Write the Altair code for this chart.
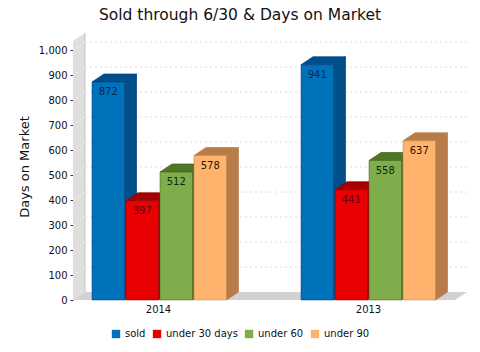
import altair as alt
import pandas as pd

FONT = "DejaVu Sans"
TITLE = "Sold through 6/30 & Days on Market"
Y_TITLE = "Days on Market"
YEARS = ["2014", "2013"]
SERIES = ["sold", "under 30 days", "under 60", "under 90"]
SOLD = [872, 941]
UNDER_30 = [397, 441]
UNDER_60 = [512, 558]
UNDER_90 = [578, 637]
VALUES = [SOLD, UNDER_30, UNDER_60, UNDER_90]
TICKS = list(range(0, 1001, 100))

FRONT = ["#0072b9", "#e80003", "#7fad4b", "#ffb36c"]
SIDE = ["#00508a", "#a50000", "#4f7526", "#b87c49"]
TOP = ["#004f8c", "#a80000", "#4f7526", "#b87c49"]
EDGE = ["#003a80", "#8a0000", "#3f6018", "#b87c49"]
TEXT = ["#0a2a55", "#66000a", "#10260a", "#2a1800"]

# scale geometry (x domain is the floor length, y domain the axis range)
X_MAX, Y_MAX = 394, 1068
DX, DY = 12, 32
WALL_TOP = 1036
GROUP_START = [19, 228]
BAR_W, BAR_STEP = 32.5, 34

x_enc = alt.X("x:Q", scale=alt.Scale(domain=[0, X_MAX], nice=False, zero=False),
              axis=alt.Axis(values=[85, 295], labelExpr=f"datum.value < 200 ? '{YEARS[0]}' : '{YEARS[1]}'",
                            title=None, grid=False, domain=False, ticks=False, labelFont=FONT,
                            labelFontSize=10, labelColor="#111", labelPadding=4))
y_axis = alt.Axis(values=TICKS, format=",.0f", title=Y_TITLE, grid=False, domain=False, tickSize=3,
                  tickColor="#333", labelFont=FONT, labelFontSize=10, labelColor="#111", labelPadding=3,
                  titleFont=FONT, titleFontSize=13, titleFontWeight="normal", titleColor="#111", titlePadding=7)
y_scale = alt.Scale(domain=[0, Y_MAX], nice=False, zero=False)
Y = alt.Y("y:Q", scale=y_scale, axis=y_axis, stack=None)
Y2 = alt.Y2("y2:Q")


def area(rows, color, stroke=None):
    kw = {"stroke": stroke, "strokeWidth": 0.7} if stroke else {}
    return alt.Chart(pd.DataFrame(rows)).mark_area(color=color, opacity=1, **kw).encode(
        x=x_enc, y=Y, y2=Y2, detail="g:N")


layers = []
# wall
layers.append(area([
    {"x": 0, "y": WALL_TOP, "y2": 0, "g": "w"},
    {"x": DX, "y": WALL_TOP + DY, "y2": DY, "g": "w"},
], "#dedede"))
# floor
layers.append(area([
    {"x": 0, "y": 0, "y2": 0, "g": "f"},
    {"x": DX, "y": DY, "y2": 0, "g": "f"},
    {"x": X_MAX - DX, "y": DY, "y2": 0, "g": "f"},
    {"x": X_MAX, "y": DY, "y2": DY, "g": "f"},
], "#d2d2d2"))
# wall back edge
layers.append(alt.Chart(pd.DataFrame([{"x": DX, "y": WALL_TOP + DY, "y2": DY}])).mark_rule(
    color="#c4c4c4", strokeWidth=1).encode(x=x_enc, y=Y, y2=Y2))
# grid on the back wall and the slanted lines on the side wall
grid = pd.DataFrame([{"x": DX, "x2": X_MAX, "y": t + DY} for t in TICKS[1:]])
layers.append(alt.Chart(grid).mark_rule(color="#dcdcdc", strokeDash=[2, 3], strokeWidth=1).encode(
    x=x_enc, x2="x2:Q", y=Y))
slant = pd.DataFrame([r for t in TICKS[1:] for r in
                      ({"x": 0, "y": t, "g": t}, {"x": DX, "y": t + DY, "g": t})])
layers.append(alt.Chart(slant).mark_line(color="#f2f2f2", strokeDash=[2, 2], strokeWidth=1).encode(
    x=x_enc, y=Y, detail="g:N"))

color = alt.Color("series:N", scale=alt.Scale(domain=SERIES, range=FRONT),
                  legend=alt.Legend(title=None, orient="none", legendX=38, legendY=296, direction="horizontal",
                                    columns=4, columnPadding=6, symbolType="square", symbolSize=70,
                                    symbolStrokeWidth=0, labelFont=FONT, labelFontSize=10, labelColor="#111",
                                    labelOffset=4))

text_layers = []
for si, name in enumerate(SERIES):
    side, top, front, labels = [], [], [], []
    for gi, year in enumerate(YEARS):
        v = VALUES[si][gi]
        xl = GROUP_START[gi] + si * BAR_STEP
        xr = xl + BAR_W
        side += [{"x": xr, "y": v, "y2": 0, "g": year}, {"x": xr + DX, "y": v + DY, "y2": DY, "g": year}]
        top += [{"x": xl, "y": v, "y2": v, "g": year}, {"x": xl + DX, "y": v + DY, "y2": v, "g": year},
                {"x": xr, "y": v + DY, "y2": v, "g": year}, {"x": xr + DX, "y": v + DY, "y2": v + DY, "g": year}]
        front.append({"x": xl, "x2": xr, "y": v, "y2": 0, "series": name})
        labels.append({"x": (xl + xr) / 2, "y": v, "t": str(v)})
    layers.append(area(side, SIDE[si], EDGE[si]))
    layers.append(area(top, TOP[si], EDGE[si]))
    layers.append(alt.Chart(pd.DataFrame(front)).mark_rect(stroke=EDGE[si], strokeWidth=0.5).encode(
        x=x_enc, x2="x2:Q", y=Y, y2=Y2, color=color))
    text_layers.append(alt.Chart(pd.DataFrame(labels)).mark_text(
        baseline="top", dy=5, font=FONT, fontSize=10, color=TEXT[si]).encode(x=x_enc, y=Y, text="t:N"))

chart = alt.layer(*layers, *text_layers).properties(
    width=X_MAX, height=267,
    title=alt.TitleParams(TITLE, font=FONT, fontSize=15.5, fontWeight="normal", color="#111", anchor="middle", dx=-30, offset=9),
    padding={"left": 65, "top": 25, "right": 4, "bottom": 44},
    autosize=alt.AutoSizeParams(type="none"),
).configure_view(stroke=None)

chart.save("out.html", embed_options={"renderer": "svg", "actions": False})
